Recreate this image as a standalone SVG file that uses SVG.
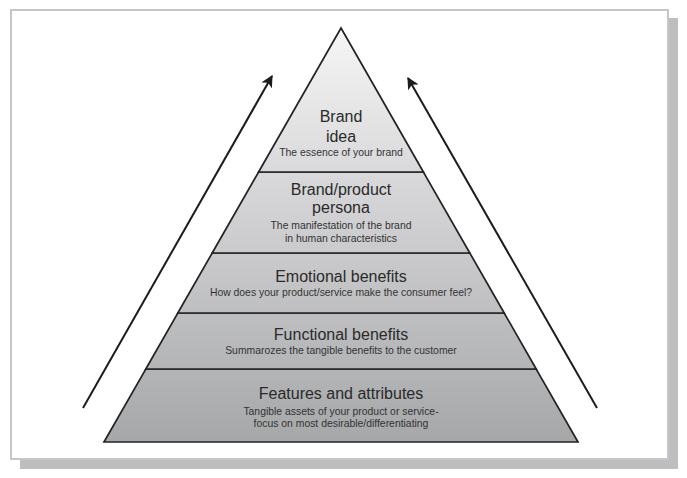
<svg xmlns="http://www.w3.org/2000/svg" width="687" height="478" viewBox="0 0 687 478">
<style>
.band{stroke:#232323;stroke-width:1.7;stroke-linejoin:miter;fill:url(#pg)}
.t{font-family:"Liberation Sans",Arial,sans-serif;font-size:16px;fill:#2a2a2a;text-anchor:middle}
.s{font-family:"Liberation Sans",Arial,sans-serif;font-size:10.4px;fill:#333;text-anchor:middle}
.arr{stroke:#1c1c1c;stroke-width:2;fill:none;marker-end:url(#ah)}
</style>
<defs>
<linearGradient id="pg" gradientUnits="userSpaceOnUse" x1="0" y1="28" x2="0" y2="442">
<stop offset="0" stop-color="#f6f6f6"/>
<stop offset="0.35" stop-color="#d9d9db"/>
<stop offset="1" stop-color="#a6a7a9"/>
</linearGradient>
<marker id="ah" viewBox="0 0 10 10" refX="9" refY="5" markerWidth="6" markerHeight="6" markerUnits="strokeWidth" orient="auto">
<path d="M0,0 L10,5 L0,10 L2.5,5 Z" fill="#1c1c1c"/>
</marker>
</defs>
<rect x="20" y="18" width="658" height="451" fill="#bdbec0"/>
<rect x="11" y="10" width="657" height="449" fill="#ffffff" stroke="#c6c6c8" stroke-width="2"/>
<g id="connectors">
<line class="arr" x1="83" y1="408" x2="272" y2="76"/>
<line class="arr" x1="597" y1="408" x2="408" y2="78"/>
</g>
<g id="features">
<polygon class="band" points="145.8,369 536.2,369 578,442 104,442"/>
<text class="t" x="341" y="399">Features and attributes</text>
<text class="s" x="341" y="415">Tangible assets of your product or service-</text>
<text class="s" x="341" y="427">focus on most desirable/differentiating</text>
</g>
<g id="functional">
<polygon class="band" points="177.8,313 504.2,313 536.2,369 145.8,369"/>
<text class="t" x="341" y="340">Functional benefits</text>
<text class="s" x="341" y="354">Summarozes the tangible benefits to the customer</text>
</g>
<g id="emotional">
<polygon class="band" points="212.2,253 469.8,253 504.2,313 177.8,313"/>
<text class="t" x="341" y="282">Emotional benefits</text>
<text class="s" x="341" y="296">How does your product/service make the consumer feel?</text>
</g>
<g id="persona">
<polygon class="band" points="258.6,172 423.4,172 469.8,253 212.2,253"/>
<text class="t" x="341" y="195">Brand/product</text>
<text class="t" x="341" y="213">persona</text>
<text class="s" x="341" y="229">The manifestation of the brand</text>
<text class="s" x="341" y="242">in human characteristics</text>
</g>
<g id="brand-idea">
<polygon class="band" points="341,28 423.4,172 258.6,172"/>
<text class="t" x="341" y="122">Brand</text>
<text class="t" x="341" y="142">idea</text>
<text class="s" x="341" y="156">The essence of your brand</text>
</g>
</svg>
